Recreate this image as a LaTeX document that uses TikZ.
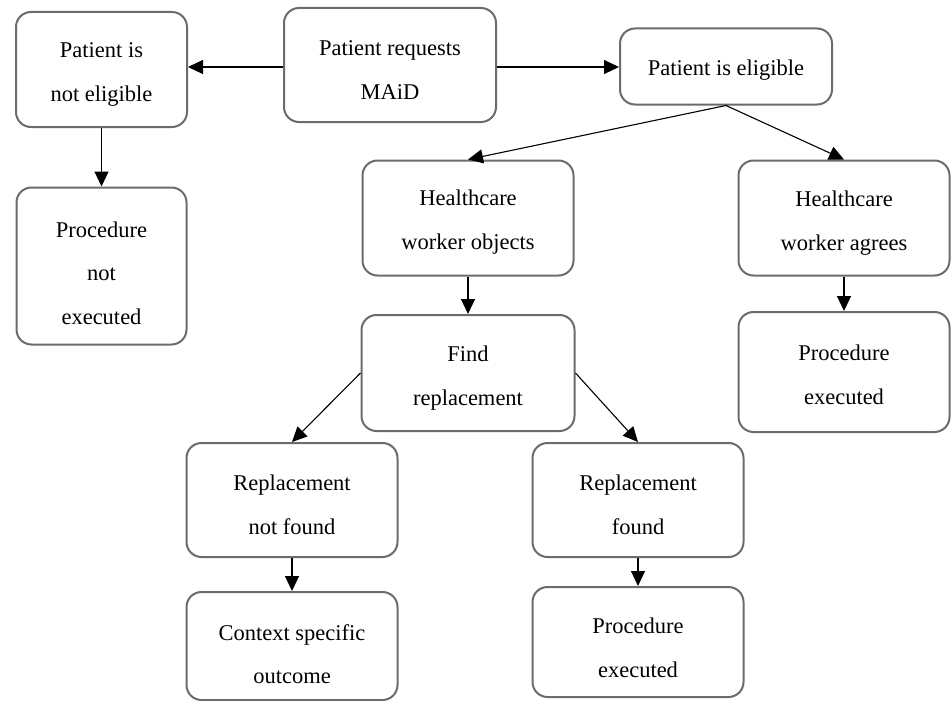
\documentclass[tikz,border=0pt]{standalone}
\usepackage{fontspec}
\setmainfont{Liberation Serif}
\usetikzlibrary{arrows.meta}
\begin{document}
\begin{tikzpicture}[x=1pt,y=-1pt,
  box/.style={draw=black!58, line width=2pt, rounded corners=15pt, inner sep=0pt},
  txt/.style={align=center, font=\fontsize{22.5}{43.5}\selectfont, inner sep=0pt},
  arr/.style={draw=black, line width=1.1pt, -{Triangle[length=15pt,width=14pt]}}]
\useasboundingbox (0,0) rectangle (951,701);
\clip (0,0) rectangle (951,701);
\newcommand{\bx}[6]{\node[box, minimum width=#3pt, minimum height=#4pt] (#1) at (#2) {};
  \node[txt, yshift=-#6pt] (#1t) at (#1.center) {#5};}
\bx{ne}{101.5,69.5}{171}{115}{Patient is\\not eligible}{5}
\bx{req}{390,65}{212}{114}{Patient requests\\MAiD}{5}
\bx{el}{726,66.5}{212}{76}{Patient is eligible}{4}
\bx{pne}{101.5,266}{170}{157}{Procedure\\not\\executed}{7}
\bx{hwo}{468,218}{211}{115}{Healthcare\\worker objects}{4}
\bx{hwa}{844,218}{211}{115}{Healthcare\\worker agrees}{5}
\bx{fr}{468,373}{213}{116}{Find\\replacement}{5}
\bx{pe1}{844,372}{211}{120}{Procedure\\executed}{3}
\bx{rnf}{292,500}{211}{114}{Replacement\\not found}{5}
\bx{rf}{638,500}{211}{114}{Replacement\\found}{5}
\bx{cso}{292,646}{211}{108}{Context specific\\outcome}{8}
\bx{pe2}{638,642}{211}{110}{Procedure\\executed}{6}
\draw[arr] (req.west |- 0,67) -- (ne.east |- 0,67);
\draw[arr] (req.east |- 0,67) -- (el.west |- 0,67);
\draw[arr] (ne.south) -- (pne.north);
\draw[arr] (el.south) -- (hwo.north);
\draw[arr] (el.south) -- (hwa.north);
\draw[arr] (hwo.south) -- (fr.north);
\draw[arr] (hwa.south) -- (pe1.north);
\draw[arr] (fr.west) -- (rnf.north);
\draw[arr] (fr.east) -- (rf.north);
\draw[arr] (rnf.south) -- (cso.north);
\draw[arr] (rf.south) -- (pe2.north);
\end{tikzpicture}
\end{document}
